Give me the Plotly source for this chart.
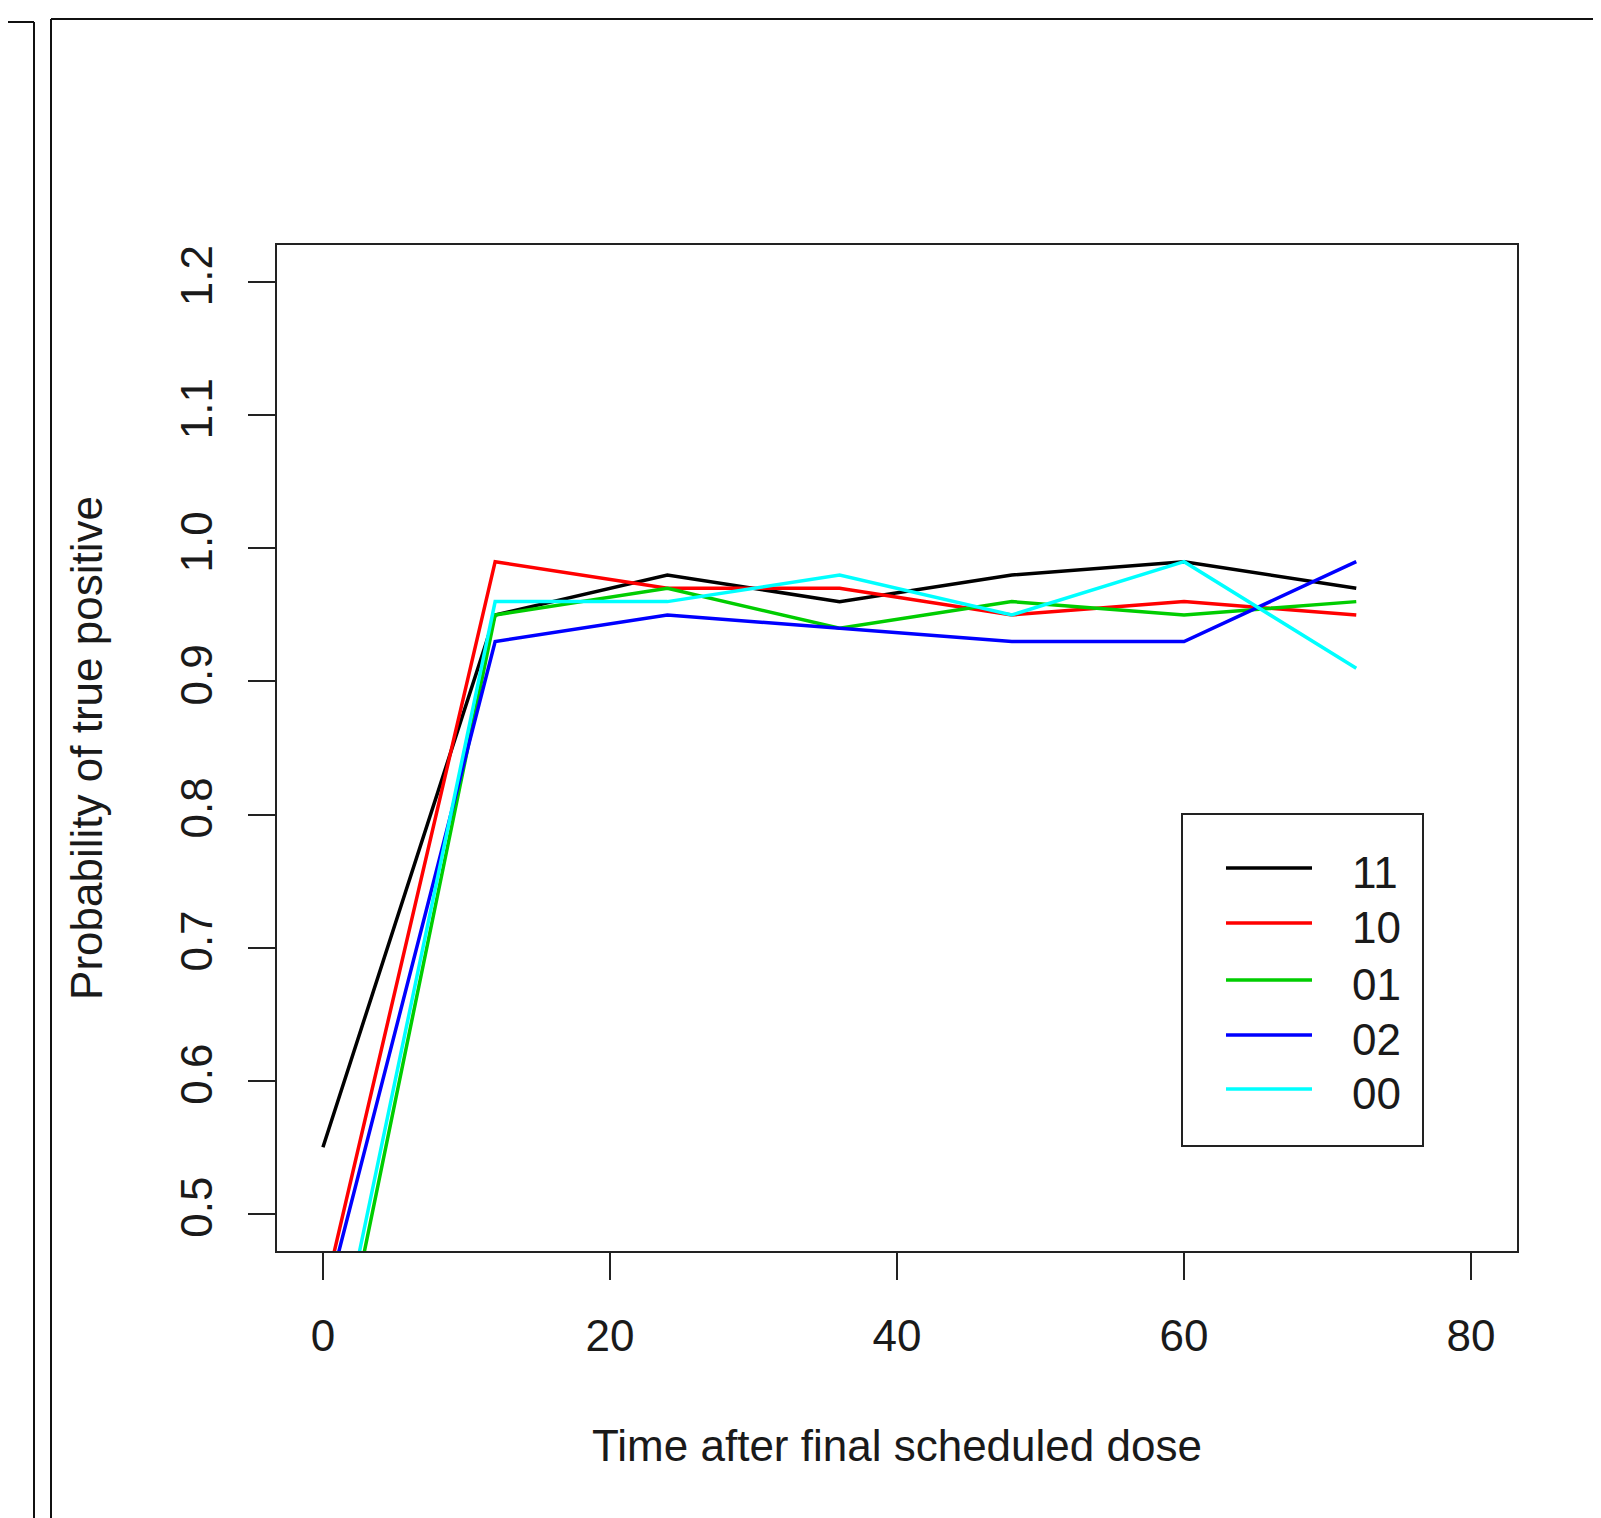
import plotly.graph_objects as go

# ---- data ----
times = [0, 12, 24, 36, 48, 60, 72]
series_names = ["11", "10", "01", "02", "00"]
series_colors = ["#000000", "#FF0000", "#00CD00", "#0000FF", "#00FFFF"]
s11 = [0.55, 0.95, 0.98, 0.96, 0.98, 0.99, 0.97]
s10 = [0.435, 0.99, 0.97, 0.97, 0.95, 0.96, 0.95]
s01 = [0.32, 0.95, 0.97, 0.94, 0.96, 0.95, 0.96]
s02 = [0.425, 0.93, 0.95, 0.94, 0.93, 0.93, 0.99]
s00 = [0.34, 0.96, 0.96, 0.98, 0.95, 0.99, 0.91]
series_values = [s11, s10, s01, s02, s00]
x_ticks = [0, 20, 40, 60, 80]
y_ticks = [0.5, 0.6, 0.7, 0.8, 0.9, 1.0, 1.1, 1.2]
y_tick_labels = ["0.5", "0.6", "0.7", "0.8", "0.9", "1.0", "1.1", "1.2"]
x_title = "Time after final scheduled dose"
y_title = "Probability of true positive"

# ---- layout geometry (page pixels; page body has an 8px margin) ----
OFF = 8
W, H = 1601 - OFF, 1518 - OFF
L, R, T, B = 277 - OFF, 1517 - OFF, 245 - OFF, 1251 - OFF
pw, ph = R - L, B - T

def px(xp):
    return (xp - OFF - L) / pw

def py(yp):
    return (B - (yp - OFF)) / ph

FONT = "Liberation Sans, Arial, sans-serif"
AX = "#222222"
TXT = "#1a1a1a"

fig = go.Figure()
for name, col, vals in zip(series_names, series_colors, series_values):
    fig.add_trace(go.Scatter(x=times, y=vals, mode="lines", name=name,
                             line=dict(color=col, width=3.5), showlegend=False))

shapes = []
# screenshot frames outside the plot
shapes.append(dict(type="line", xref="paper", yref="paper",
                   x0=px(34), x1=px(34), y0=py(22), y1=py(1540),
                   line=dict(color="#111111", width=2)))
shapes.append(dict(type="line", xref="paper", yref="paper",
                   x0=px(-10), x1=px(34), y0=py(22), y1=py(22),
                   line=dict(color="#111111", width=2)))
shapes.append(dict(type="line", xref="paper", yref="paper",
                   x0=px(51), x1=px(51), y0=py(19), y1=py(1540),
                   line=dict(color="#111111", width=2)))
shapes.append(dict(type="line", xref="paper", yref="paper",
                   x0=px(51), x1=px(1620), y0=py(19), y1=py(19),
                   line=dict(color="#111111", width=2)))

# legend box
shapes.append(dict(type="rect", xref="paper", yref="paper",
                   x0=px(1182), x1=px(1423), y0=py(1146), y1=py(814),
                   line=dict(color=AX, width=2), fillcolor="white", layer="above"))
legend_y = [868, 923, 980, 1035, 1089]
annotations = []
for name, col, ly in zip(series_names, series_colors, legend_y):
    shapes.append(dict(type="line", xref="paper", yref="paper",
                       x0=px(1226), x1=px(1312), y0=py(ly), y1=py(ly),
                       line=dict(color=col, width=3.5), layer="above"))
    annotations.append(dict(xref="paper", yref="paper", x=px(1350), y=py(ly + 4),
                            xanchor="left", yanchor="middle", text=name, showarrow=False,
                            font=dict(family=FONT, size=44, color=TXT)))

fig.update_layout(
    width=W, height=H,
    margin=dict(l=L, r=W - R, t=T, b=H - B, pad=0),
    paper_bgcolor="white", plot_bgcolor="white",
    shapes=shapes, annotations=annotations,
    font=dict(family=FONT, size=44, color=TXT),
)
fig.update_xaxes(
    range=[-3.2, 83.2], tickvals=x_ticks, ticktext=[str(v) for v in x_ticks],
    showgrid=False, zeroline=False, showline=True, mirror=True,
    linecolor=AX, linewidth=2, ticks="outside", ticklen=27, tickwidth=2, tickcolor=AX,
    tickfont=dict(family=FONT, size=44, color=TXT), ticklabelstandoff=18,
    title=dict(text=x_title, font=dict(family=FONT, size=44, color=TXT), standoff=71),
)
fig.update_yaxes(
    range=[0.472, 1.228], tickvals=y_ticks, ticktext=y_tick_labels,
    showgrid=False, zeroline=False, showline=True, mirror=True,
    linecolor=AX, linewidth=2, ticks="outside", ticklen=27, tickwidth=2, tickcolor=AX,
    tickangle=-90, tickfont=dict(family=FONT, size=44, color=TXT), ticklabelstandoff=18,
    title=dict(text=y_title, font=dict(family=FONT, size=44, color=TXT), standoff=56),
)
fig.write_html("out.html")
